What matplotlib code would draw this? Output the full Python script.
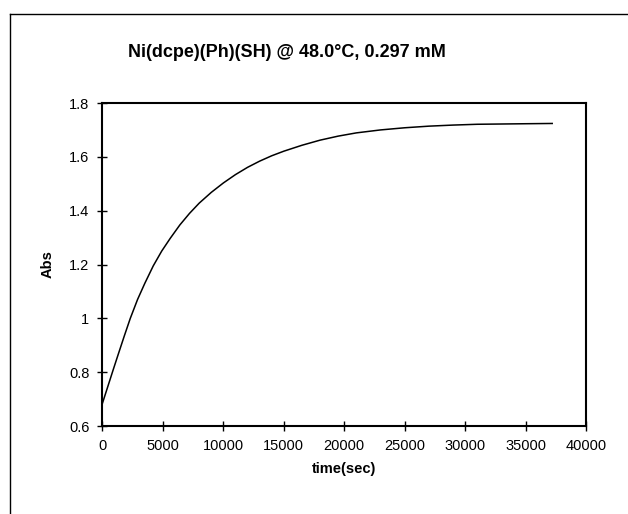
import matplotlib.pyplot as plt
from matplotlib.lines import Line2D

plt.rcParams['font.family'] = ['Liberation Sans', 'DejaVu Sans']

# Absorbance vs time
time_sec = [0, 300, 600, 900, 1300, 1800, 2300, 2900, 3500, 4200, 4900,
            5600, 6400, 7200, 8000, 9000, 10000, 11000, 12000, 13000, 14000,
            15000, 16500, 18000, 19500, 21000, 23000, 25000, 27000, 29000,
            31000, 33000, 35000, 37200]
absorbance = [0.685, 0.727, 0.769, 0.811, 0.866, 0.934, 1.0, 1.07, 1.13,
              1.195, 1.25, 1.297, 1.347, 1.39, 1.428, 1.468, 1.503, 1.534,
              1.561, 1.584, 1.604, 1.621, 1.643, 1.662, 1.677, 1.689, 1.700,
              1.708, 1.714, 1.718, 1.721, 1.722, 1.723, 1.724]

x_ticks = [0, 5000, 10000, 15000, 20000, 25000, 30000, 35000, 40000]
y_ticks = [0.6, 0.8, 1.0, 1.2, 1.4, 1.6, 1.8]
y_tick_labels = ['0.6', '0.8', '1', '1.2', '1.4', '1.6', '1.8']

fig = plt.figure(figsize=(6.28, 5.14), dpi=100)
ax = fig.add_axes([0.1632, 0.1712, 0.770, 0.6284])

ax.plot(time_sec, absorbance, color='black', linewidth=1.1)

ax.set_xlim(0, 40000)
ax.set_ylim(0.6, 1.8)
ax.set_xticks(x_ticks)
ax.set_xticklabels([str(v) for v in x_ticks])
ax.set_yticks(y_ticks)
ax.set_yticklabels(y_tick_labels)
ax.tick_params(direction='inout', length=7, width=1.0, labelsize=10.5, pad=6)

for s in ax.spines.values():
    s.set_linewidth(1.5)

ax.set_xlabel('time(sec)', fontsize=10.5, fontweight='bold', labelpad=6)
ax.set_ylabel('Abs', fontsize=10.5, fontweight='bold', labelpad=10)

fig.text(0.457, 0.897, 'Ni(dcpe)(Ph)(SH) @ 48.0°C, 0.297 mM',
         ha='center', va='center', fontsize=13, fontweight='bold')

# outer frame from the scanned page
fig.add_artist(Line2D([10 / 628, 1.0], [1 - 14 / 514, 1 - 14 / 514],
                      color='black', linewidth=1.0))
fig.add_artist(Line2D([10 / 628, 10 / 628], [0.0, 1 - 14 / 514],
                      color='black', linewidth=1.0))

fig.savefig('out.png', dpi=100)
